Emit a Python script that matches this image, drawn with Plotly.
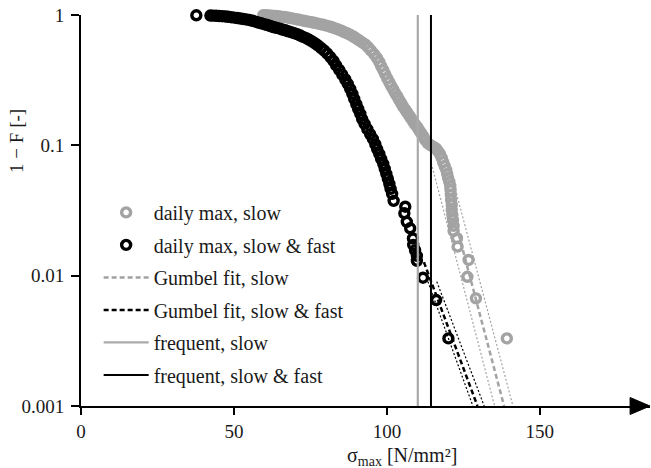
import plotly.graph_objects as go

# ---------------- data ----------------
slow_x = [59.6, 60.6, 61.5, 62.5, 63.5, 64.5, 65.4, 66.4, 67.4, 68.4, 69.4, 70.4, 71.3, 72.3,
          73.3, 74.3, 75.3, 76.2, 77.2, 78.2, 79.2, 80.2, 81.2, 82.1, 83.1, 84.1, 85.1, 86.0,
          87.0, 88.0, 89.0, 89.9, 90.9, 91.9, 92.9, 93.9, 94.8, 95.8, 96.7, 97.5, 98.1, 98.8,
          99.4, 100.1, 100.8, 101.4, 102.1, 102.7, 103.4, 104.0, 104.7, 105.3, 106.0, 106.6,
          107.3, 107.9, 108.6, 109.2, 109.9, 110.5, 111.2, 111.9, 112.5, 113.3, 114.2, 115.1,
          116.0, 116.6, 117.3, 117.9, 118.4, 118.9, 119.4, 119.7, 120.0, 120.4, 120.7, 120.8,
          120.9, 121.0, 121.2, 121.2, 121.4, 121.6, 121.8, 121.8, 122.9, 123.1, 126.7, 126.3,
          129.1, 139.2]
slow_y = [0.997, 0.996, 0.993, 0.989, 0.984, 0.979, 0.972, 0.965, 0.957, 0.948, 0.938, 0.928,
          0.919, 0.909, 0.899, 0.890, 0.881, 0.871, 0.862, 0.851, 0.841, 0.829, 0.817, 0.805,
          0.789, 0.774, 0.758, 0.740, 0.724, 0.705, 0.684, 0.663, 0.640, 0.617, 0.594, 0.565,
          0.534, 0.502, 0.468, 0.436, 0.406, 0.378, 0.352, 0.326, 0.304, 0.285, 0.268, 0.252,
          0.237, 0.223, 0.210, 0.198, 0.188, 0.179, 0.169, 0.161, 0.152, 0.145, 0.138, 0.131,
          0.124, 0.117, 0.110, 0.104, 0.1005, 0.0976, 0.0946, 0.0905, 0.0861, 0.0800, 0.0743,
          0.0692, 0.0646, 0.0602, 0.0561, 0.0524, 0.0488, 0.0455, 0.0417, 0.0380, 0.0348,
          0.0319, 0.0292, 0.0267, 0.0241, 0.0220, 0.0194, 0.0167, 0.0132, 0.0098, 0.0067,
          0.0033]

fast_x = [37.7, 42.3, 43.2, 44.2, 45.2, 46.2, 47.2, 48.1, 49.1, 50.1, 51.1, 52.1, 53.0, 54.0,
          55.0, 56.0, 57.0, 57.9, 58.9, 59.9, 60.9, 61.9, 62.8, 63.8, 64.8, 65.8, 66.8, 67.7,
          68.7, 69.7, 70.7, 71.7, 72.6, 73.6, 74.6, 75.6, 76.6, 77.5, 78.5, 79.5, 80.5, 81.5,
          82.5, 83.4, 84.4, 85.4, 86.4, 87.2, 88.0, 88.7, 89.3, 90.0, 90.6, 91.3, 91.9, 92.7,
          93.6, 94.5, 95.4, 96.2, 96.8, 97.5, 98.1, 98.8, 99.3, 99.8, 100.3, 100.8, 101.2,
          101.7, 102.2, 106.0, 105.7, 106.5, 107.6, 108.5, 108.6, 109.2, 109.8, 109.8, 111.8,
          116.1, 120.1]
fast_y = [0.995, 0.991, 0.989, 0.986, 0.982, 0.979, 0.974, 0.969, 0.962, 0.955, 0.948, 0.940,
          0.932, 0.924, 0.916, 0.903, 0.890, 0.876, 0.864, 0.850, 0.838, 0.823, 0.809, 0.798,
          0.788, 0.774, 0.763, 0.750, 0.738, 0.725, 0.712, 0.696, 0.680, 0.664, 0.645, 0.626,
          0.604, 0.583, 0.558, 0.534, 0.506, 0.476, 0.444, 0.410, 0.379, 0.349, 0.320, 0.296,
          0.271, 0.248, 0.227, 0.207, 0.190, 0.174, 0.159, 0.146, 0.133, 0.122, 0.112, 0.102,
          0.0937, 0.0859, 0.0787, 0.0721, 0.0661, 0.0605, 0.0555, 0.0505, 0.0463, 0.0424,
          0.0375, 0.0338, 0.0301, 0.0259, 0.0231, 0.0193, 0.0172, 0.0157, 0.0142, 0.0130,
          0.00964, 0.00650, 0.00330]

# Gumbel fits (centre line and confidence bounds)
fit_slow_x = [117.5, 138.3]
fit_slow_y = [0.0706, 0.001]
fit_slow_lo_x = [114.5, 135.2]
fit_slow_lo_y = [0.073, 0.001]
fit_slow_hi_x = [120.7, 141.2]
fit_slow_hi_y = [0.0646, 0.001]

fit_fast_x = [112.1, 129.6]
fit_fast_y = [0.0127, 0.001]
fit_fast_lo_x = [113.4, 128.1]
fit_fast_lo_y = [0.009, 0.001]
fit_fast_hi_x = [116.3, 131.8]
fit_fast_hi_y = [0.009, 0.001]

# frequent values (vertical lines)
freq_slow = 110.1
freq_fast = 114.4
y_span = [0.001, 1]

x_ticks = [0, 50, 100, 150]
y_ticks = [0.001, 0.01, 0.1, 1]
y_ticktext = ["0.001", "0.01", "0.1", "1"]

names = ["daily max, slow", "daily max, slow & fast", "Gumbel fit, slow",
         "Gumbel fit, slow & fast", "frequent, slow", "frequent, slow & fast"]

# ---------------- style ----------------
GRAY = "#a3a3a3"
BLACK = "#000000"
FONT = "Liberation Serif"
TXT = "#1a1a1a"

fig = go.Figure()

fig.add_trace(go.Scatter(x=slow_x, y=slow_y, mode="markers", name=names[0], legendgroup="a",
                         cliponaxis=False,
                         marker=dict(symbol="circle-open", size=9, color=GRAY, line=dict(width=3.4))))
fig.add_trace(go.Scatter(x=fast_x, y=fast_y, mode="markers", name=names[1], legendgroup="b",
                         cliponaxis=False,
                         marker=dict(symbol="circle-open", size=9, color=BLACK, line=dict(width=3.4))))

fig.add_trace(go.Scatter(x=fit_slow_x, y=fit_slow_y, mode="lines", name=names[2], legendgroup="c",
                         line=dict(color=GRAY, width=2.5, dash="5px,3px")))
fig.add_trace(go.Scatter(x=fit_fast_x, y=fit_fast_y, mode="lines", name=names[3], legendgroup="d",
                         line=dict(color=BLACK, width=2.5, dash="5px,3px")))
for bx, by, col, grp in [(fit_slow_lo_x, fit_slow_lo_y, GRAY, "c"),
                         (fit_slow_hi_x, fit_slow_hi_y, GRAY, "c"),
                         (fit_fast_lo_x, fit_fast_lo_y, BLACK, "d"),
                         (fit_fast_hi_x, fit_fast_hi_y, BLACK, "d")]:
    fig.add_trace(go.Scatter(x=bx, y=by, mode="lines", showlegend=False, legendgroup=grp,
                             line=dict(color=col, width=1.2, dash="2px,2px")))

fig.add_trace(go.Scatter(x=[freq_slow, freq_slow], y=y_span, mode="lines", name=names[4],
                         legendgroup="e", line=dict(color="#aaaaaa", width=2.2)))
fig.add_trace(go.Scatter(x=[freq_fast, freq_fast], y=y_span, mode="lines", name=names[5],
                         legendgroup="f", line=dict(color=BLACK, width=2)))

fig.update_layout(
    width=651, height=468,
    margin=dict(l=81, r=1, t=15, b=62),
    paper_bgcolor="white", plot_bgcolor="white",
    font=dict(family=FONT, size=19, color=TXT),
    showlegend=True,
    legend=dict(x=0.031, y=0.545, xanchor="left", yanchor="top", bgcolor="rgba(0,0,0,0)",
                font=dict(family=FONT, size=20, color=TXT), itemwidth=45,
                traceorder="grouped", tracegroupgap=3.5),
    xaxis=dict(range=[0, 186], tickvals=x_ticks, showgrid=False, zeroline=False,
               showline=True, linecolor=BLACK, linewidth=2, ticks="outside", ticklen=7,
               tickwidth=2, tickcolor=BLACK, tickfont=dict(family=FONT, size=19, color=TXT)),
    yaxis=dict(type="log", range=[-3, 0], tickvals=y_ticks, ticktext=y_ticktext,
               showgrid=False, zeroline=False, showline=True, linecolor=BLACK, linewidth=2,
               ticks="outside", ticklen=8, tickwidth=2, tickcolor=BLACK, ticklabelstandoff=3,
               tickfont=dict(family=FONT, size=19, color=TXT)),
    shapes=[dict(type="path", xref="paper", yref="paper",
                 path="M 0.965,0.0217 L 1.0,0 L 0.965,-0.0217 Z",
                 fillcolor=BLACK, line=dict(color=BLACK, width=1))],
    annotations=[
        dict(text="σ<sub>max</sub> [N/mm²]", xref="paper", yref="paper", x=0.564, y=-0.128,
             xanchor="center", yanchor="middle", showarrow=False,
             font=dict(family=FONT, size=20, color=TXT)),
        dict(text="1 − F [-]", xref="paper", yref="paper", x=-0.1125, y=0.678,
             xanchor="center", yanchor="middle", textangle=-90, showarrow=False,
             font=dict(family=FONT, size=19, color=TXT)),
    ],
)

fig.write_html("out.html")
